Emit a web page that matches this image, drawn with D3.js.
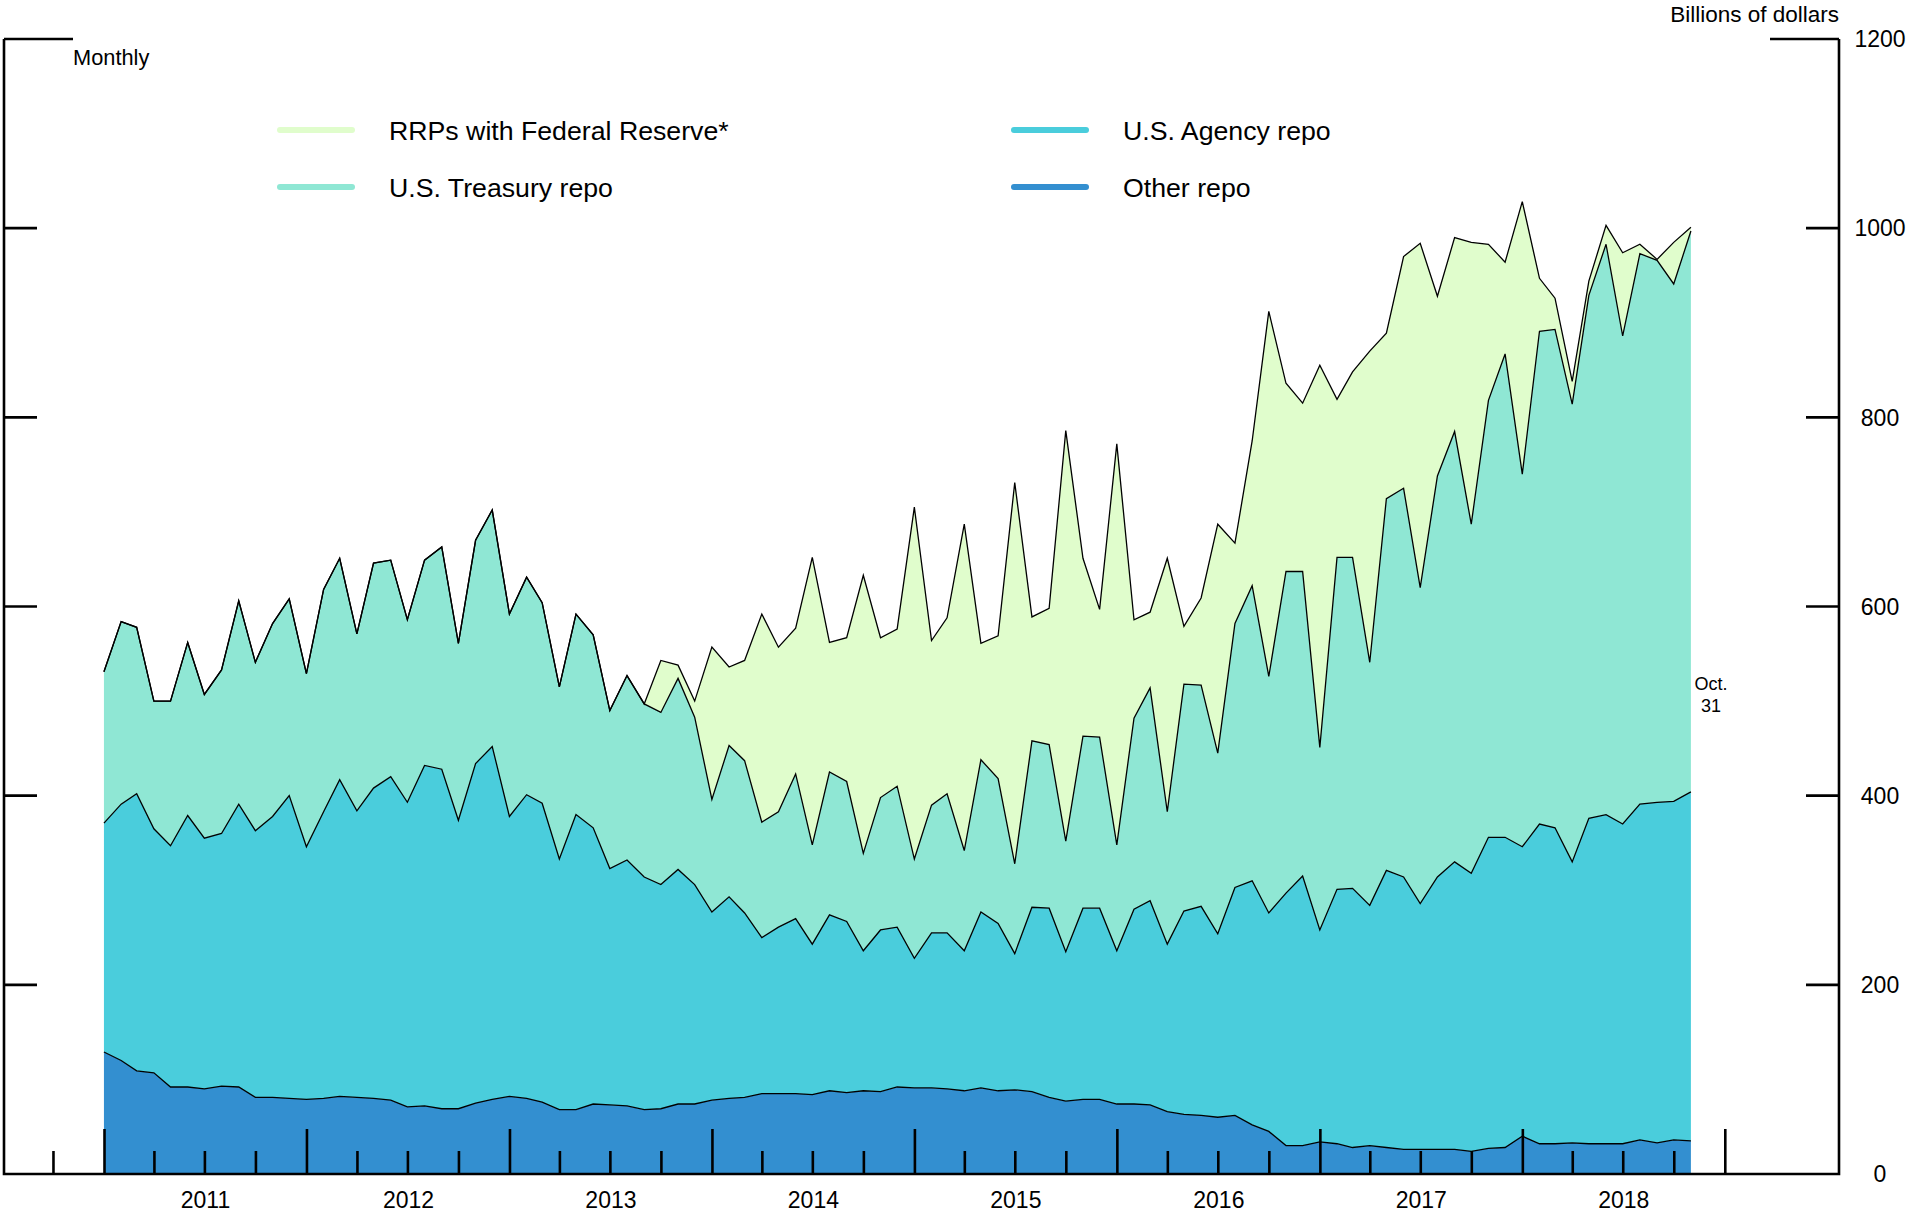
<!DOCTYPE html>
<html>
<head>
<meta charset="utf-8">
<script src="https://cdn.jsdelivr.net/npm/d3@7"></script>
<style>
  body { margin: 0; background: #fff; }
  svg { display: block; font-family: 'Liberation Sans', Arial, sans-serif; }
</style>
</head>
<body>
<svg id="chart" width="1908" height="1220"></svg>
<script>
// month-end values, Dec 2010 .. Oct 2018, billions of dollars
var months = d3.timeMonth.range(new Date(2011, 0, 1), new Date(2018, 10, 2))
  .map(d => d3.timeDay.offset(d, -1))

var otherRepo = [129, 120, 109, 107, 92, 92, 90, 93, 92, 81, 81, 80,
  79, 80, 82, 81, 80, 78, 71, 72, 69, 69, 75, 79,
  82, 80, 76, 68, 68, 74, 73, 72, 68, 69, 74, 74,
  78, 80, 81, 85, 85, 85, 84, 88, 86, 88, 87, 92,
  91, 91, 90, 88, 91, 88, 89, 87, 81, 77, 79, 79,
  74, 74, 73, 66, 63, 62, 60, 62, 52, 45, 30, 30,
  34, 32, 28, 30, 28, 26, 26, 26, 26, 24, 27, 28,
  40, 32, 32, 33, 32, 32, 32, 36, 33, 36, 35]

var agencyRepo = [242, 271, 293, 258, 255, 287, 265, 267, 299, 282, 297, 320,
  267, 303, 335, 303, 328, 342, 322, 360, 359, 305, 359, 373,
  296, 321, 316, 265, 312, 292, 250, 260, 246, 237, 248, 232,
  199, 213, 195, 165, 176, 185, 159, 186, 181, 148, 171, 169,
  137, 164, 165, 148, 186, 177, 144, 195, 200, 158, 202, 202,
  162, 206, 216, 177, 215, 221, 194, 241, 258, 231, 267, 285,
  224, 269, 274, 254, 293, 288, 260, 288, 304, 294, 329, 328,
  306, 338, 334, 297, 344, 348, 338, 355, 360, 358, 369]

var treasuryRepo = [160, 193, 176, 135, 153, 183, 152, 173, 215, 178, 204, 208,
  183, 235, 234, 187, 238, 229, 193, 217, 235, 187, 236, 250,
  214, 230, 212, 182, 212, 204, 167, 195, 183, 182, 202, 177,
  119, 160, 161, 122, 122, 153, 105, 151, 148, 103, 140, 149,
  105, 135, 147, 106, 161, 153, 95, 176, 173, 117, 182, 181,
  112, 202, 225, 140, 240, 234, 191, 279, 312, 250, 340, 322,
  193, 351, 350, 257, 393, 411, 334, 424, 455, 369, 462, 511,
  394, 521, 527, 484, 553, 603, 516, 582, 573, 547, 593]

var rrpFed = [0, 0, 0, 0, 0, 0, 0, 0, 0, 0, 0, 0,
  0, 0, 0, 0, 0, 0, 0, 0, 0, 0, 0, 0,
  0, 0, 0, 0, 0, 0, 0, 0, 0, 55, 14, 17,
  161, 83, 106, 220, 174, 154, 304, 137, 152, 294, 169, 166,
  372, 174, 186, 345, 123, 151, 403, 131, 144, 434, 188, 135,
  424, 104, 80, 268, 61, 92, 242, 85, 153, 386, 199, 178,
  404, 167, 196, 329, 175, 245, 364, 190, 205, 298, 165, 97,
  288, 56, 33, 24, 15, 20, 88, 10, 1, 44, 4]

var seriesKeys = ['other', 'agency', 'treasury', 'rrp']
var seriesNames = {rrp: 'RRPs with Federal Reserve*', treasury: 'U.S. Treasury repo',
  agency: 'U.S. Agency repo', other: 'Other repo'}
var seriesColors = {rrp: '#e0fdcc', treasury: '#8fe7d4', agency: '#4acddc', other: '#338fd0'}
var legendOrder = ['rrp', 'treasury', 'agency', 'other']

var yTicks = [0, 200, 400, 600, 800, 1000, 1200]
var years = [2011, 2012, 2013, 2014, 2015, 2016, 2017, 2018]

var rows = months.map((date, i) => ({
  date, other: otherRepo[i], agency: agencyRepo[i], treasury: treasuryRepo[i], rrp: rrpFed[i]
}))

var svg = d3.select('#chart')
var xLeft = 4, xRight = 1839, yBase = 1174, yTop = 39

var x = d3.scaleTime()
  .domain([new Date(2011, 0, 1), new Date(2019, 0, 1)])
  .range([104.5, 1725.3])
var y = d3.scaleLinear().domain([0, 1200]).range([yBase, yTop])

var stacked = d3.stack().keys(seriesKeys)(rows)

var area = d3.area()
  .x(d => x(d.data.date))
  .y0(d => y(d[0]))
  .y1(d => y(d[1]))

var line = d3.line()
  .x(d => x(d.data.date))
  .y(d => y(d[1]))

svg.append('g').selectAll('path')
  .data(stacked)
  .join('path')
  .attr('d', area)
  .attr('fill', d => seriesColors[d.key])

svg.append('g').selectAll('path')
  .data(stacked)
  .join('path')
  .attr('d', line)
  .attr('fill', 'none')
  .attr('stroke', '#000')
  .attr('stroke-width', 1.3)

// frame
var axisG = svg.append('g').attr('stroke', '#000').attr('stroke-width', 2.6)

axisG.append('path').attr('d', `M${xLeft},${yTop}V${yBase}H${xRight}V${yTop}`).attr('fill', 'none')

yTicks.filter(d => d > 0).forEach(v => {
  var len = v == 1200 ? 69 : 33
  axisG.append('line').attr('x1', xLeft).attr('x2', xLeft + len).attr('y1', y(v)).attr('y2', y(v))
  axisG.append('line').attr('x1', xRight - len).attr('x2', xRight).attr('y1', y(v)).attr('y2', y(v))
})

var quarters = d3.timeMonth.every(3).range(new Date(2010, 9, 1), new Date(2019, 0, 2))
axisG.selectAll('line.q')
  .data(quarters)
  .join('line')
  .attr('class', 'q')
  .attr('x1', d => x(d)).attr('x2', d => x(d))
  .attr('y1', yBase)
  .attr('y2', d => d.getMonth() == 0 ? yBase - 45 : yBase - 23)

svg.append('g').selectAll('text')
  .data(yTicks)
  .join('text')
  .attr('x', 1880)
  .attr('y', d => y(d))
  .attr('dy', '0.36em')
  .attr('text-anchor', 'middle')
  .attr('font-size', 23)
  .text(d => d)

svg.append('g').selectAll('text')
  .data(years)
  .join('text')
  .attr('x', d => x(new Date(d, 6, 2)))
  .attr('y', 1208)
  .attr('text-anchor', 'middle')
  .attr('font-size', 23)
  .text(d => d)

svg.append('text').attr('x', 73).attr('y', 65).attr('font-size', 21.8).text('Monthly')
svg.append('text').attr('x', xRight).attr('y', 22).attr('font-size', 22.5)
  .attr('text-anchor', 'end').text('Billions of dollars')

var lastDate = months[months.length - 1]
var note = svg.append('text').attr('font-size', 18).attr('text-anchor', 'middle')
note.append('tspan').attr('x', x(lastDate) + 20).attr('y', 690).text('Oct.')
note.append('tspan').attr('x', x(lastDate) + 20).attr('y', 712).text('31')

// legend
var legend = svg.append('g').selectAll('g')
  .data(legendOrder)
  .join('g')
  .attr('transform', (d, i) => `translate(${i < 2 ? 277 : 1011},${i % 2 ? 187 : 130})`)

legend.append('line')
  .attr('x1', 3).attr('x2', 75)
  .attr('stroke', d => seriesColors[d])
  .attr('stroke-width', 6)
  .attr('stroke-linecap', 'round')

legend.append('text')
  .attr('x', 112)
  .attr('dy', '0.36em')
  .attr('font-size', 26.7)
  .text(d => seriesNames[d])
</script>
</body>
</html>
